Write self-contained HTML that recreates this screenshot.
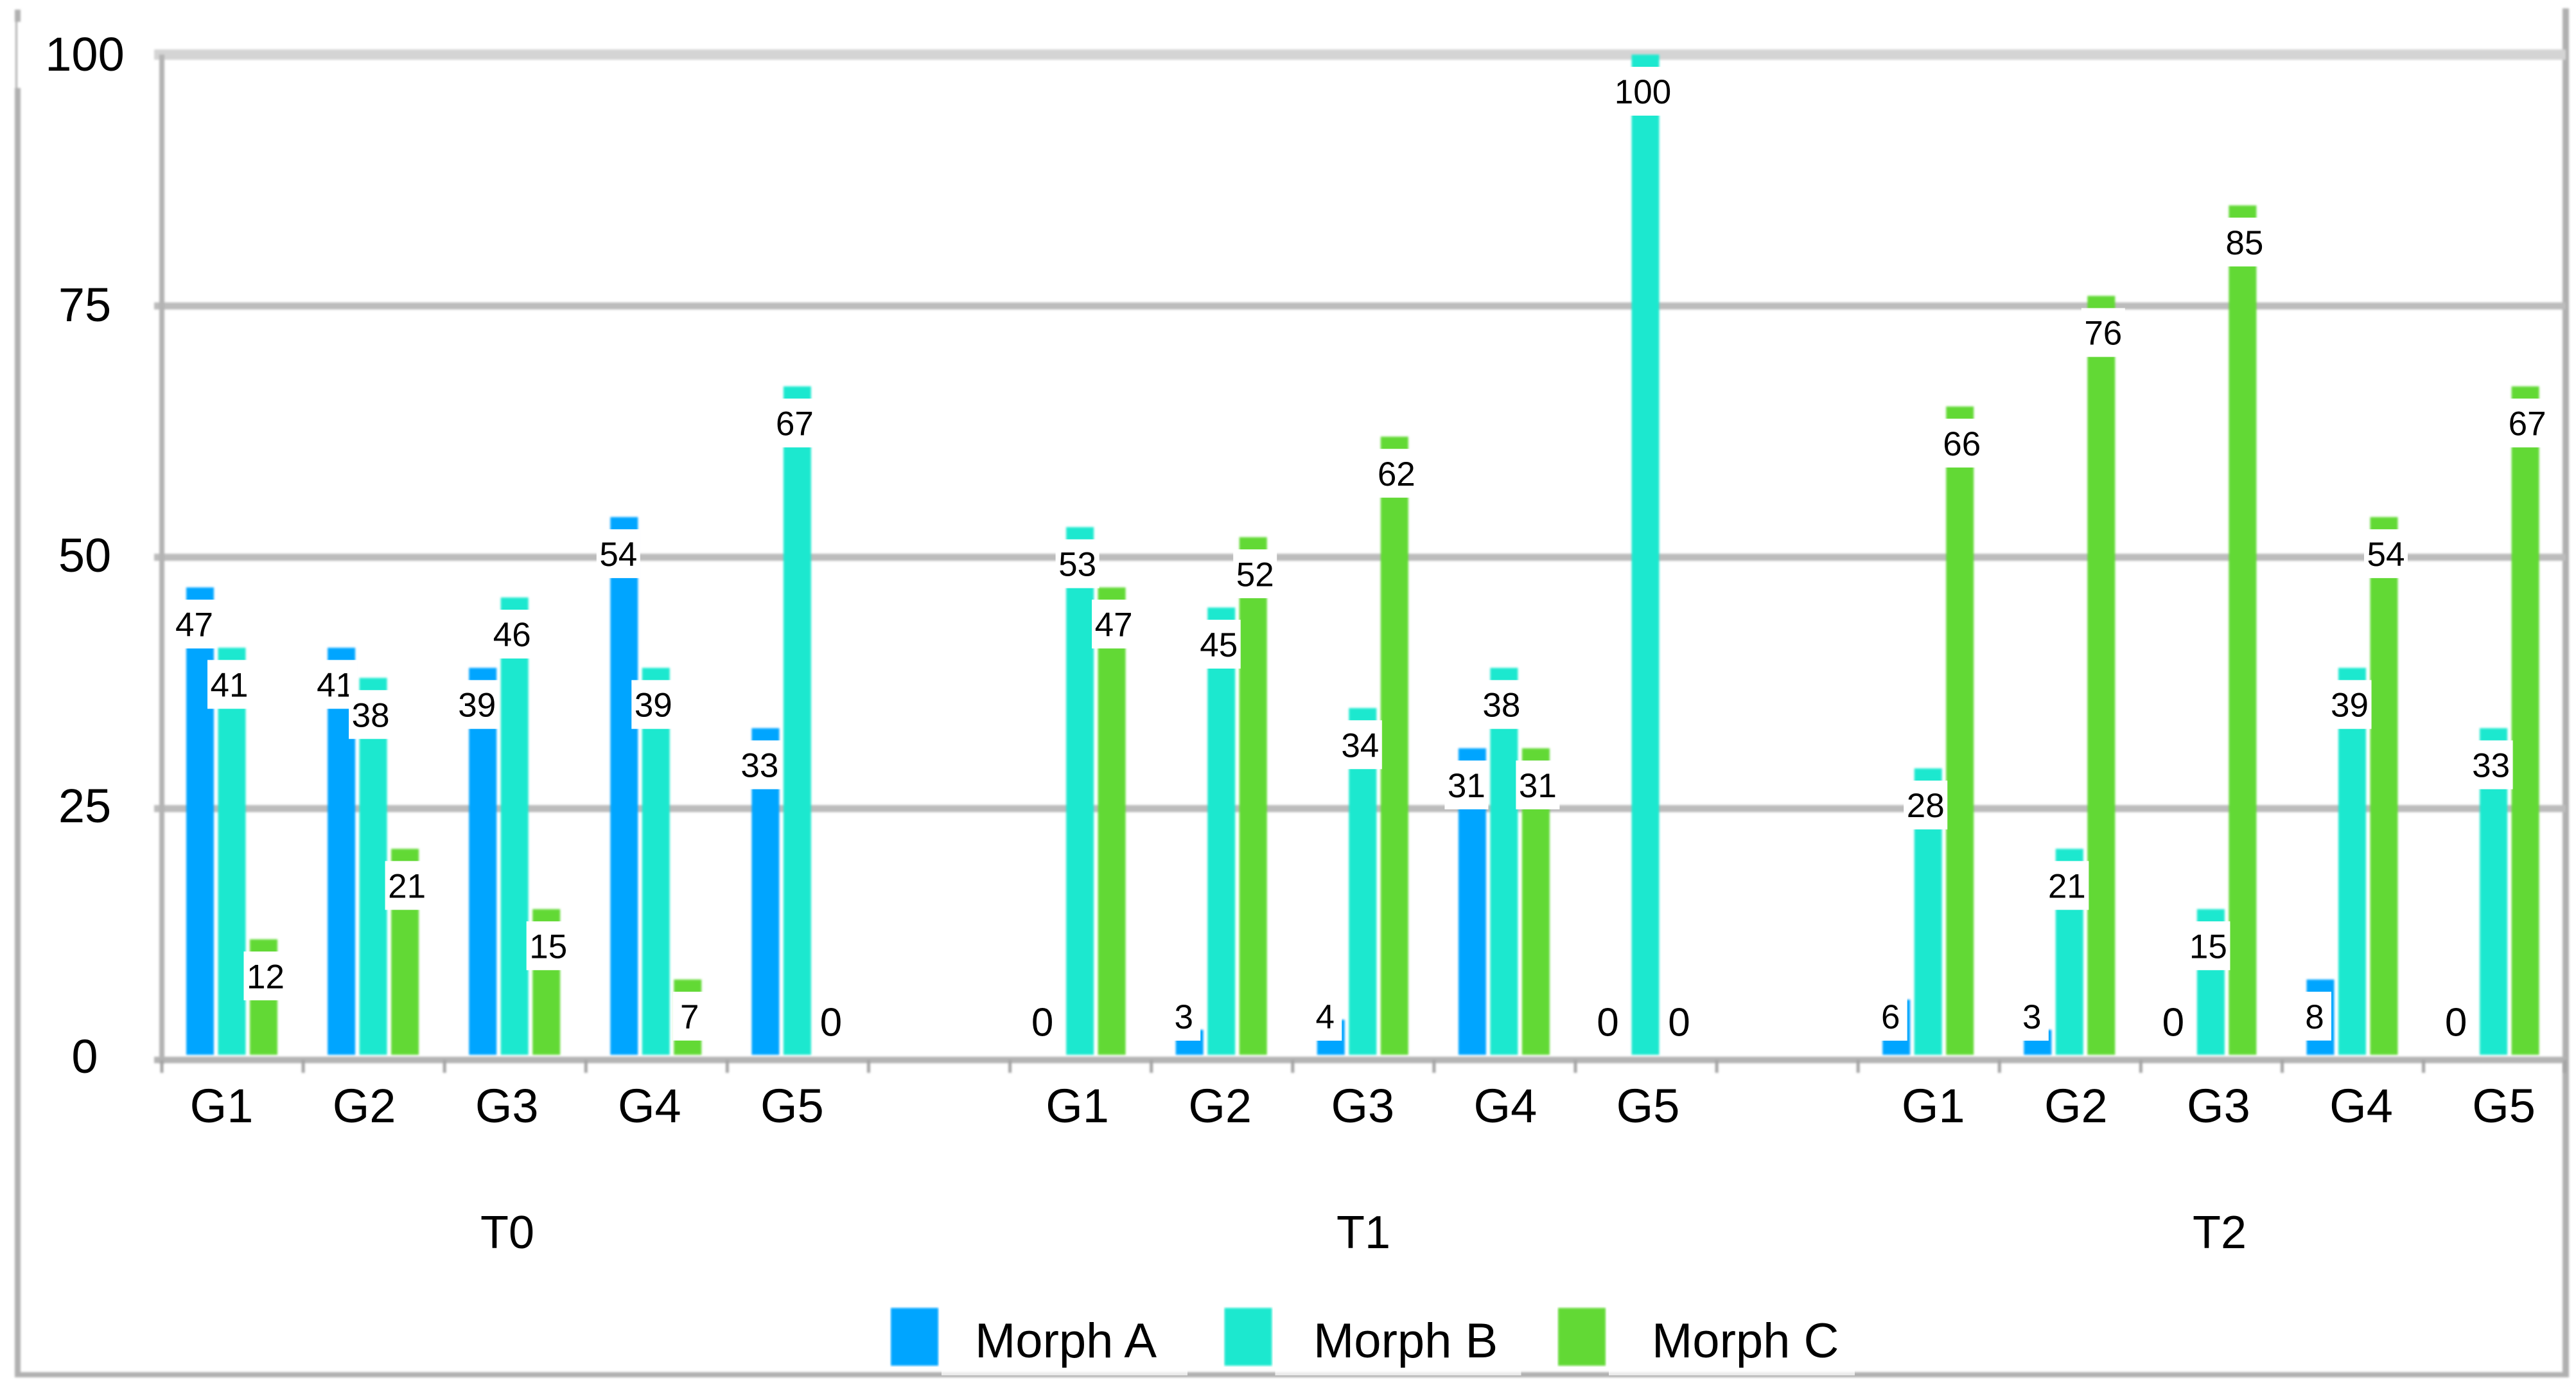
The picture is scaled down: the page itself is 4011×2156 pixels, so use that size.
<!DOCTYPE html>
<html lang="en">
<head>
<meta charset="utf-8">
<title>Morph distribution by group and time</title>
<style>
html,body{margin:0;padding:0;background:#fff;width:4011px;height:2156px;overflow:hidden}
svg{display:block}
text{font-family:"Liberation Sans",sans-serif;fill:#000}
</style>
</head>
<body>
<svg id="chart" xmlns="http://www.w3.org/2000/svg" width="4011" height="2156" viewBox="0 0 4011 2156">
  <defs>
    <filter id="soft" x="-2%" y="-2%" width="104%" height="104%"><feGaussianBlur stdDeviation="1.6"/></filter>
  </defs>
  <rect width="4011" height="2156" fill="#fff"/>
  <g fill="#b0b0b0" filter="url(#soft)">
    <rect x="23" y="137" width="9" height="2007"/>
    <rect x="24" y="34" width="3" height="103"/>
    <rect x="23" y="15" width="9" height="19"/>
    <rect x="3990" y="13" width="10" height="2131"/>
    <rect x="23" y="2136" width="3977" height="8"/>
  </g>
  <g id="grid" filter="url(#soft)"></g>
  <g id="axes" filter="url(#soft)"></g>
  <g id="bars" filter="url(#soft)"></g>
  <g id="labels"></g>
  <g id="ticks"></g>
  <g id="legend"></g>
</svg>
<script>
const groups = ["G1","G2","G3","G4","G5","","G1","G2","G3","G4","G5","","G1","G2","G3","G4","G5"];
const periods = ["T0","T1","T2"];
const yTicks = [0,25,50,75,100];
const seriesNames = ["Morph A","Morph B","Morph C"];
// Bar heights
const morphA = [47,41,39,54,33,null,0,3,4,31,0,null,6,3,0,8,0];
const morphB = [41,38,46,39,67,null,53,45,35,39,100,null,29,21,15,39,33];
const morphC = [12,21,15,8,0,null,47,52,62,31,0,null,65,76,85,54,67];
// Values as printed on the bar labels
const printedA = [47,41,39,54,33,null,0,3,4,31,0,null,6,3,0,8,0];
const printedB = [41,38,46,39,67,null,53,45,34,38,100,null,28,21,15,39,33];
const printedC = [12,21,15,7,0,null,47,52,62,31,0,null,66,76,85,54,67];

const allSeries = [morphA, morphB, morphC];
const allPrinted = [printedA, printedB, printedC];
const seriesColors = ["#06a5ff","#1fe8cf","#62d936"];
const NS = "http://www.w3.org/2000/svg";

function yScale(v){ return 1650 - v * 15.65; }
function slotLeft(i){ return 252 + i * 220.1; }
function barLeft(i, s){ return slotLeft(i) + 38 + s * 49.5; }
function groupLabelX(i){ return 345 + i * 222.1; }
function periodLabelX(p){ return 790 + p * 1333; }
function legendTextX(s){ return 1518 + s * 527; }
const BAR_WIDTH = 43;
const BAR_FOOT = 8;
const labelShift = [-9,-4,3];

function make(tag, attrs, parent){
  const el = document.createElementNS(NS, tag);
  for (const k in attrs) el.setAttribute(k, attrs[k]);
  parent.appendChild(el);
  return el;
}

const gridG = document.getElementById("grid");
const axesG = document.getElementById("axes");
const barsG = document.getElementById("bars");
const labelsG = document.getElementById("labels");
const ticksG = document.getElementById("ticks");
const legendG = document.getElementById("legend");

yTicks.forEach(function(t){
  const isTop = t === yTicks[yTicks.length-1];
  if (t !== 0) {
    const line = make("rect", {x:240, y:yScale(t)-(isTop?8:5.5), width:3755, height:isTop?16:11, fill:isTop?"#d4d4d4":"#bcbcbc"}, gridG);
    
    
  }
  const lab = make("text", {x:132, y:yScale(t)+20+t*0.05, "font-size":74, "text-anchor":"middle"}, ticksG);
  lab.textContent = t;
  
  
});

const yAxis = make("rect", {x:248, y:yScale(100), width:8, height:yScale(0)-yScale(100)+6, fill:"#b4b4b4"}, axesG);


const xAxis = make("rect", {x:240, y:yScale(0)-5, width:3755, height:10, fill:"#b4b4b4"}, axesG);



for (let i = 0; i <= groups.length; i++) {
  const tick = make("rect", {x:slotLeft(i)-2.5, y:yScale(0), width:5, height:20, fill:"#a4a4a4"}, axesG);
  
  
}

groups.forEach(function(g, i){
  allSeries.forEach(function(values, s){
    const v = values[i];
    if (v === null || v === 0) return;
    const bar = make("rect", {x:barLeft(i,s), y:yScale(v), width:BAR_WIDTH, height:yScale(0)-BAR_FOOT-yScale(v), fill:seriesColors[s]}, barsG);
    
    
  });
});

groups.forEach(function(g, i){
  allSeries.forEach(function(values, s){
    const v = values[i];
    if (v === null) return;
    const str = String(allPrinted[s][i]);
    const cx = barLeft(i,s) + BAR_WIDTH/2 + labelShift[s];
    const cy = v === 0 ? yScale(0) - 60 : Math.min(yScale(v) + 57, yScale(0) - 68);
    const w = 36 + str.length * 16;
    const box = make("rect", {x:cx-w/2, y:cy-38, width:w, height:76, fill:"#fff"}, labelsG);
    
    
    const fs = v === 0 ? 62 : 53;
    const t = make("text", {x:cx, y:cy+fs*0.36, "font-size":fs, "text-anchor":"middle"}, labelsG);
    t.textContent = str;
    
    
  });
});

groups.forEach(function(g, i){
  if (!g) return;
  const t = make("text", {x:groupLabelX(i), y:1747, "font-size":74, "text-anchor":"middle"}, ticksG);
  t.textContent = g;
  
  
});

periods.forEach(function(p, k){
  const t = make("text", {x:periodLabelX(k), y:1943, "font-size":72, "text-anchor":"middle"}, ticksG);
  t.textContent = p;
  
  
});

seriesNames.forEach(function(name, s){
  const left = 1387 + s * 519.5;
  const strip = make("rect", {x:left+79, y:2050, width:383, height:91, fill:"#fff", opacity:0.75}, legendG);
  
  
  const swatch = make("rect", {x:left, y:2036, width:74, height:90, fill:seriesColors[s], filter:"url(#soft)"}, legendG);
  
  
  const t = make("text", {x:legendTextX(s), y:2113, "font-size":76}, legendG);
  t.textContent = name;
  
  
});
</script>
</body>
</html>
